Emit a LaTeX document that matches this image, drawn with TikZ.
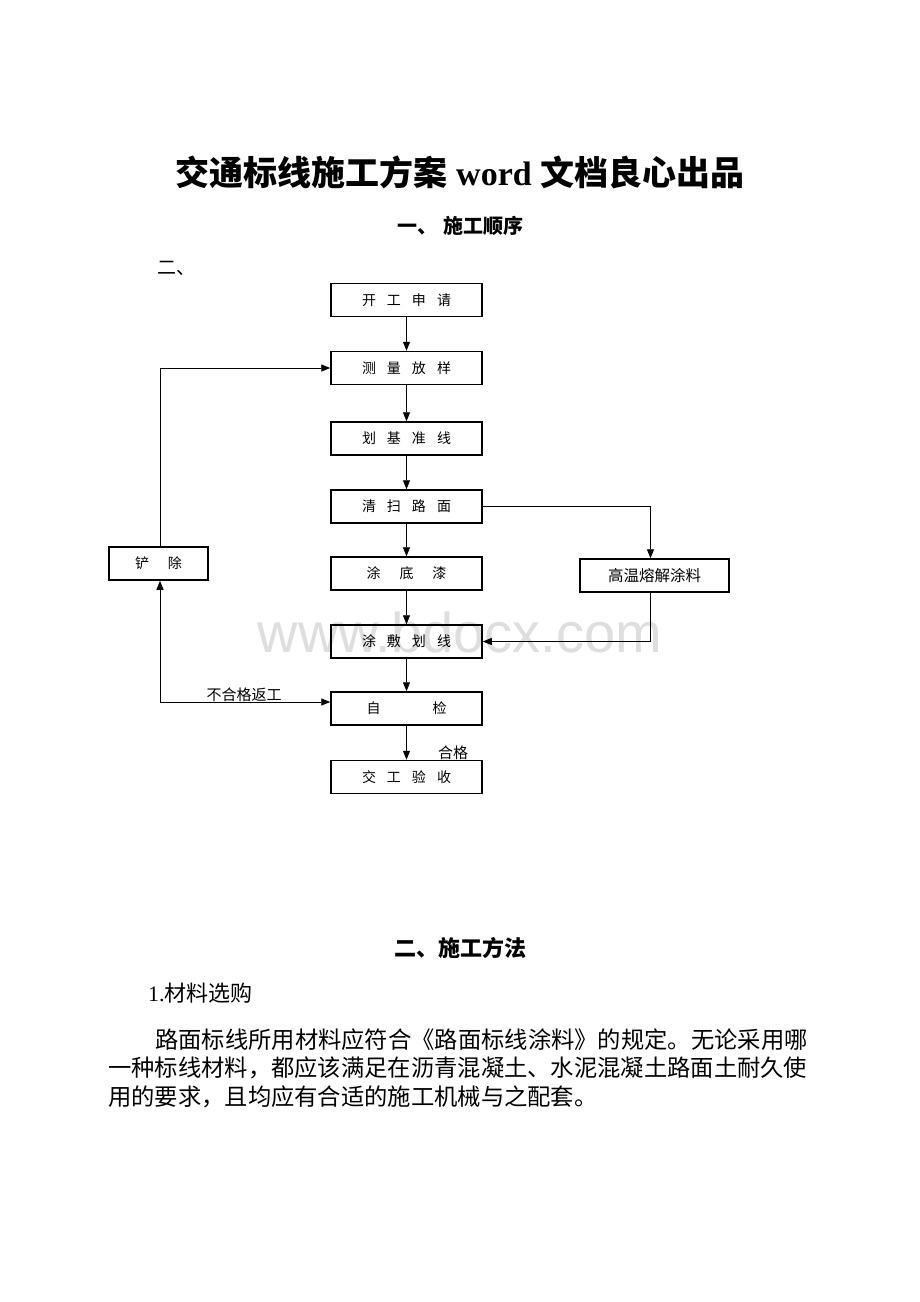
\documentclass[tikz,border=0pt]{standalone}
\usepackage{fontspec}
\setmainfont{Noto Sans CJK SC}
\newfontfamily\lat{Liberation Serif}
\newfontfamily\wm{Liberation Sans}
\usetikzlibrary{arrows.meta}
\begin{document}
\begin{tikzpicture}[x=1pt,y=-1pt,
  box/.style={draw, line width=1.5pt, minimum width=151pt, minimum height=33pt, inner sep=0pt, font=\fontsize{14}{14}\selectfont},
  tip/.style={},
  conn/.style={line width=0.9pt, -{Triangle[length=9pt,width=7pt]}},
  lbl/.style={inner sep=0pt, font=\fontsize{15}{15}\selectfont},
  txt/.style={inner sep=0pt, anchor=west, font=\fontsize{23.3}{23.3}\selectfont}]
\fill[white] (0,0) rectangle (920,1302);
\useasboundingbox (0,0) rectangle (920,1302);
% watermark
\node[text=black!13, inner sep=0pt, font=\wm\fontsize{56}{56}\selectfont] (wmk) at (460,632) {www.bdocx.com};
% headings
\node[inner sep=0pt, font=\bfseries\fontsize{34}{34}\selectfont] (title) at (460,172) {交通标线施工方案{\lat\bfseries{} word }文档良心出品};
\node[inner sep=0pt, font=\bfseries\fontsize{20}{20}\selectfont] (sec1) at (460,226) {一、\hspace{6pt}施工顺序};
\node[inner sep=0pt, anchor=west, font=\fontsize{19}{19}\selectfont] (er) at (157,268) {二、};
% boxes
\node[box] (kg) at (406.5,300) {开\hspace{11pt}工\hspace{11pt}申\hspace{11pt}请};
\node[box] (cl) at (406.5,368) {测\hspace{11pt}量\hspace{11pt}放\hspace{11pt}样};
\node[box] (hj) at (406.5,438.5) {划\hspace{11pt}基\hspace{11pt}准\hspace{11pt}线};
\node[box] (qs) at (406.5,506.5) {清\hspace{11pt}扫\hspace{11pt}路\hspace{11pt}面};
\node[box] (td) at (406.5,573.5) {涂\hspace{19pt}底\hspace{19pt}漆};
\node[box] (tf) at (406.5,641.5) {涂\hspace{11pt}敷\hspace{11pt}划\hspace{11pt}线};
\node[box] (zj) at (406.5,708.5) {自\hspace{52pt}检};
\node[box] (jg) at (406.5,777) {交\hspace{11pt}工\hspace{11pt}验\hspace{11pt}收};
\node[box, minimum width=99pt] (cc) at (158.5,563.5) {铲\hspace{19pt}除};
\node[box, minimum width=149pt, font=\fontsize{15.5}{15.5}\selectfont] (gw) at (654.5,575.5) {高温熔解涂料};
% connectors
\draw[conn] (kg) -- (cl);
\draw[conn] (cl) -- (hj);
\draw[conn] (hj) -- (qs);
\draw[conn] (qs) -- (td);
\draw[conn] (td) -- (tf);
\draw[conn] (tf) -- (zj);
\draw[conn] (zj) -- (jg);
\draw[conn] (qs.east) -| ([xshift=-4pt]gw.north);
\draw[conn] ([xshift=-4pt]gw.south) |- (tf.east);
\draw[line width=0.9pt, {Triangle[length=9pt,width=7pt]}-{Triangle[length=9pt,width=7pt]}] ([xshift=1.5pt]cc.south) |- ([yshift=6.5pt]zj.west);
\draw[conn] ([xshift=1.5pt]cc.north) |- (cl.west);
\node[lbl] (bhg) at (244,695) {不合格返工};
\node[lbl] (hg) at (453,753) {合格};
% text
\node[inner sep=0pt, font=\bfseries\fontsize{22}{22}\selectfont] (sec2) at (460,948) {二、施工方法};
\node[txt, font=\fontsize{22}{22}\selectfont] (item) at (148,993) {{\lat 1.}材料选购};
\node[txt] (p1) at (155,1040) {路面标线所用材料应符合《路面标线涂料》的规定。无论采用哪};
\node[txt] (p2) at (108,1068) {一种标线材料，都应该满足在沥青混凝土、水泥混凝土路面土耐久使};
\node[txt] (p3) at (108,1097) {用的要求，且均应有合适的施工机械与之配套。};
\end{tikzpicture}
\end{document}
